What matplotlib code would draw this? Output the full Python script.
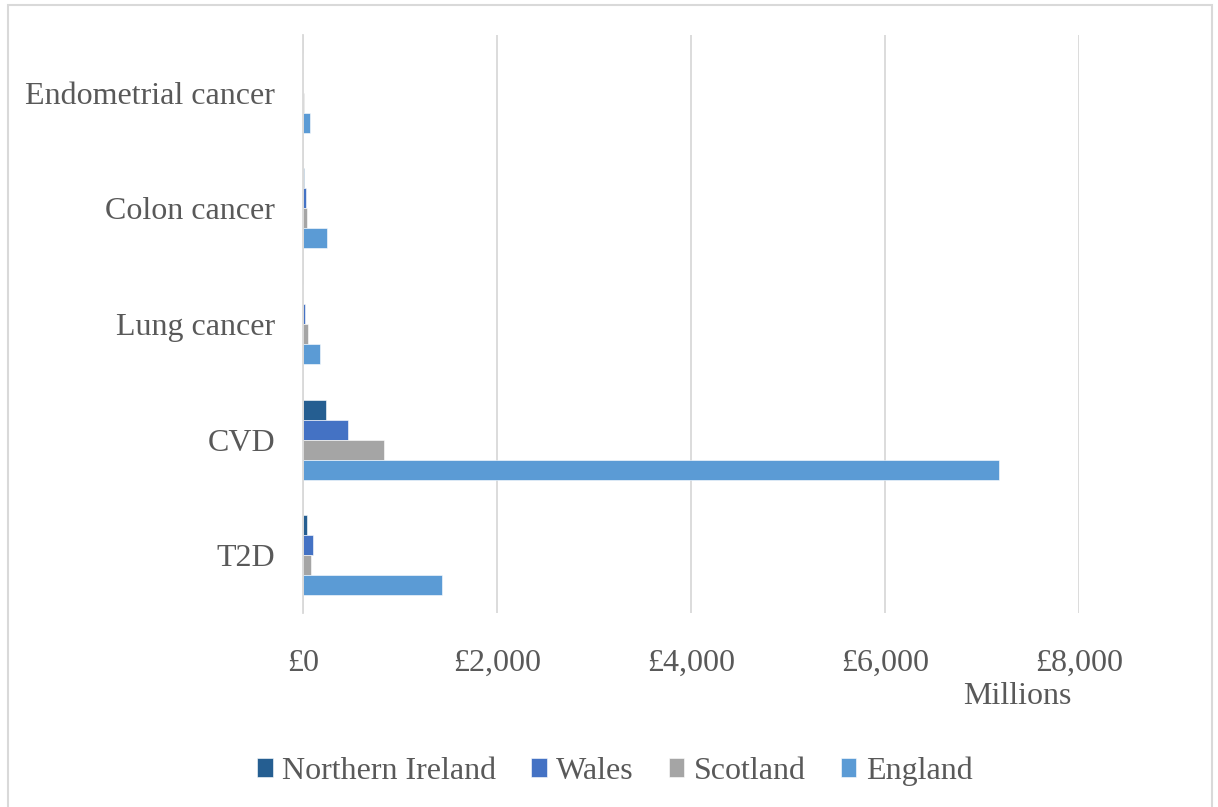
import matplotlib
matplotlib.use("Agg")
import matplotlib.pyplot as plt
from matplotlib.patches import Rectangle
import numpy as np

categories = ["T2D", "CVD", "Lung cancer", "Colon cancer", "Endometrial cancer"]
series_names = ["Northern Ireland", "Wales", "Scotland", "England"]
northern_ireland = [38, 240, 5, 8, 2]
wales = [100, 464, 20, 28, 3]
scotland = [86, 835, 48, 41, 6]
england = [1433, 7176, 178, 250, 69]
x_ticks = [0, 2000, 4000, 6000, 8000]
x_tick_labels = ["£0", "£2,000", "£4,000", "£6,000", "£8,000"]

colors = ["#255E91", "#4472C4", "#A5A5A5", "#5B9BD5"]
text_color = "#595959"
grid_color = "#D9D9D9"

plt.rcParams['font.family'] = ['Liberation Serif', 'DejaVu Serif']

fig = plt.figure(figsize=(12.18, 8.07), dpi=100)
ax = fig.add_axes([303/1218, 1 - 613/807, (1079 - 303)/1218, (613 - 35)/807])

y = np.arange(len(categories))
h = 0.173
offsets = [1.5 * h, 0.5 * h, -0.5 * h, -1.5 * h]
data = [northern_ireland, wales, scotland, england]
for vals, off, c, name in zip(data, offsets, colors, series_names):
    ax.barh(y + off, vals, height=h, color=c, label=name,
            edgecolor="white", linewidth=0.4, zorder=3)

ax.set_xlim(0, 8000)
ax.set_ylim(-0.5, len(categories) - 0.5)
ax.set_xticks(x_ticks)
ax.set_xticklabels(x_tick_labels)
ax.set_yticks(y)
ax.set_yticklabels(categories)
ax.tick_params(axis="x", length=0, pad=26, labelsize=23, labelcolor=text_color)
ax.tick_params(axis="y", length=0, pad=20, labelsize=23, labelcolor=text_color)
ax.grid(axis="x", color=grid_color, linewidth=1.3, zorder=0)
for s in ["top", "right", "bottom"]:
    ax.spines[s].set_visible(False)
ax.spines["left"].set_color(grid_color)
ax.spines["left"].set_linewidth(1.3)
ax.spines["left"].set_zorder(4)

fig.text(1017/1218, 1 - 697/807, "Millions", ha="center", va="center",
         fontsize=23, color=text_color)

handles, labels = ax.get_legend_handles_labels()
leg = fig.legend(handles, labels, loc="center", bbox_to_anchor=(615/1218, 1 - 771/807),
                 ncol=4, frameon=False, fontsize=23, handlelength=0.48, handleheight=0.5,
                 handletextpad=0.3, columnspacing=1.1, labelcolor=text_color)

fig.patches.append(Rectangle((8/1218, -0.01), (1212 - 8)/1218, 1 - 5/807 + 0.01,
                             transform=fig.transFigure, fill=False,
                             edgecolor="#D9D9D9", linewidth=1.5))

fig.savefig("out.png", dpi=100, facecolor="white")
